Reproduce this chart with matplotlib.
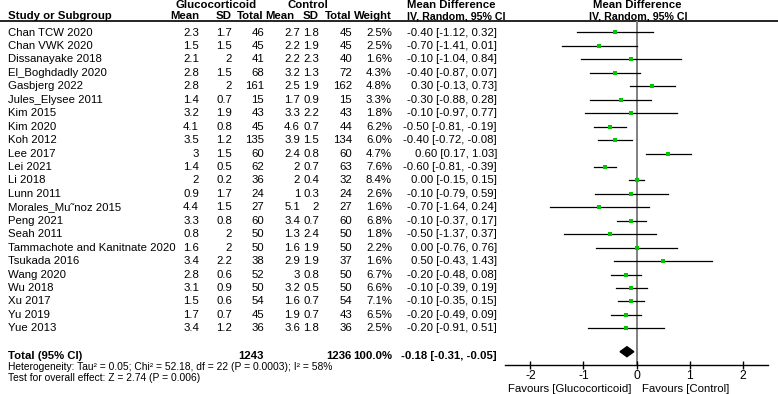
import matplotlib.pyplot as plt
from matplotlib.patches import Polygon

plt.rcParams['font.family'] = ['Liberation Sans', 'DejaVu Sans']

studies = ["Chan TCW 2020", "Chan VWK 2020", "Dissanayake 2018", "El_Boghdadly 2020",
           "Gasbjerg 2022", "Jules_Elysee 2011", "Kim 2015", "Kim 2020", "Koh 2012",
           "Lee 2017", "Lei 2021", "Li 2018", "Lunn 2011", "Morales_Mu\u02dcnoz 2015",
           "Peng 2021", "Seah 2011", "Tammachote and Kanitnate 2020", "Tsukada 2016",
           "Wang 2020", "Wu 2018", "Xu 2017", "Yu 2019", "Yue 2013"]
g_mean = [2.3, 1.5, 2.1, 2.8, 2.8, 1.4, 3.2, 4.1, 3.5, 3, 1.4, 2, 0.9, 4.4, 3.3, 0.8, 1.6, 3.4, 2.8, 3.1, 1.5, 1.7, 3.4]
g_sd = [1.7, 1.5, 2, 1.5, 2, 0.7, 1.9, 0.8, 1.2, 1.5, 0.5, 0.2, 1.7, 1.5, 0.8, 2, 2, 2.2, 0.6, 0.9, 0.6, 0.7, 1.2]
g_n = [46, 45, 41, 68, 161, 15, 43, 45, 135, 60, 62, 36, 24, 27, 60, 50, 50, 38, 52, 50, 54, 45, 36]
c_mean = [2.7, 2.2, 2.2, 3.2, 2.5, 1.7, 3.3, 4.6, 3.9, 2.4, 2, 2, 1, 5.1, 3.4, 1.3, 1.6, 2.9, 3, 3.2, 1.6, 1.9, 3.6]
c_sd = [1.8, 1.9, 2.3, 1.3, 1.9, 0.9, 2.2, 0.7, 1.5, 0.8, 0.7, 0.4, 0.3, 2, 0.7, 2.4, 1.9, 1.9, 0.8, 0.5, 0.7, 0.7, 1.8]
c_n = [45, 45, 40, 72, 162, 15, 43, 44, 134, 60, 63, 32, 24, 27, 60, 50, 50, 37, 50, 50, 54, 43, 36]
weight = [2.5, 2.5, 1.6, 4.3, 4.8, 3.3, 1.8, 6.2, 6.0, 4.7, 7.6, 8.4, 2.6, 1.6, 6.8, 1.8, 2.2, 1.6, 6.7, 6.6, 7.1, 6.5, 2.5]
md = [-0.40, -0.70, -0.10, -0.40, 0.30, -0.30, -0.10, -0.50, -0.40, 0.60, -0.60, 0.00, -0.10, -0.70, -0.10, -0.50, 0.00, 0.50, -0.20, -0.10, -0.10, -0.20, -0.20]
lo = [-1.12, -1.41, -1.04, -0.87, -0.13, -0.88, -0.97, -0.81, -0.72, 0.17, -0.81, -0.15, -0.79, -1.64, -0.37, -1.37, -0.76, -0.43, -0.48, -0.39, -0.35, -0.49, -0.91]
hi = [0.32, 0.01, 0.84, 0.07, 0.73, 0.28, 0.77, -0.19, -0.08, 1.03, -0.39, 0.15, 0.59, 0.24, 0.17, 0.37, 0.76, 1.43, 0.08, 0.19, 0.15, 0.09, 0.51]
total_g, total_c = 1243, 1236
total_md, total_lo, total_hi = -0.18, -0.31, -0.05
xticks = [-2, -1, 0, 1, 2]

W, H = 778, 394
fig = plt.figure(figsize=(W / 100, H / 100), dpi=100)
fs = 8.2

# table text on a pixel-coordinate axes
ax_t = fig.add_axes([0, 0, 1, 1])
ax_t.set_xlim(0, W)
ax_t.set_ylim(H, 0)
ax_t.axis('off')

def row_y(i):
    return 32.5 + i * 13.45

def txt(x, y, s, ha='right', bold=False, size=fs):
    ax_t.text(x, y, s, ha=ha, va='center', fontsize=size,
              fontweight='bold' if bold else 'normal')

# headers
txt(216, 5, "Glucocorticoid", ha='center', bold=True)
txt(307.5, 5, "Control", ha='center', bold=True)
txt(407, 5, "Mean Difference", ha='left', bold=True)
txt(637, 5, "Mean Difference", ha='center', bold=True)
txt(8, 16, "Study or Subgroup", ha='left', bold=True)
for x, s in [(199, "Mean"), (232, "SD"), (264, "Total"), (294, "Mean"),
             (319, "SD"), (352, "Total"), (392, "Weight")]:
    txt(x, 16, s, bold=True)
txt(407, 16, "IV, Random, 95% CI", ha='left', bold=True, size=fs - 0.5)
txt(638, 16, "IV, Random, 95% CI", ha='center', bold=True, size=fs - 0.5)
ax_t.plot([0, W], [21, 21], color='black', lw=1.2)

for i, name in enumerate(studies):
    y = row_y(i)
    txt(8, y, name, ha='left')
    txt(199, y, f"{g_mean[i]:g}")
    txt(232, y, f"{g_sd[i]:g}")
    txt(264, y, f"{g_n[i]}")
    txt(300, y, f"{c_mean[i]:g}")
    txt(319, y, f"{c_sd[i]:g}")
    txt(352, y, f"{c_n[i]}")
    txt(392, y, f"{weight[i]:.1f}%")
    txt(497, y, f"{md[i]:.2f} [{lo[i]:.2f}, {hi[i]:.2f}]")

ty = 356
txt(8, ty, "Total (95% CI)", ha='left', bold=True)
txt(264, ty, f"{total_g}", bold=True)
txt(352, ty, f"{total_c}", bold=True)
txt(392, ty, "100.0%", bold=True)
txt(497, ty, f"{total_md:.2f} [{total_lo:.2f}, {total_hi:.2f}]", bold=True)
txt(8, 367, "Heterogeneity: Tau\u00b2 = 0.05; Chi\u00b2 = 52.18, df = 22 (P = 0.0003); I\u00b2 = 58%", ha='left', size=7.4)
txt(8, 378, "Test for overall effect: Z = 2.74 (P = 0.006)", ha='left', size=7.4)

# forest plot
ax = fig.add_axes([505 / W, (H - 364.5) / H, (768 - 505) / W, (364.5 - 21) / H])
ax.set_xlim(-2.48, 2.48)
ax.set_ylim(364.5, 21)
ax.patch.set_alpha(0)
for sp in ['left', 'right', 'top']:
    ax.spines[sp].set_visible(False)
ax.spines['bottom'].set_linewidth(1.0)
ax.set_yticks([])
ax.set_xticks(xticks)
ax.set_xticklabels([str(t) for t in xticks])
ax.tick_params(axis='x', direction='inout', length=6, width=1.0, labelsize=fs + 0.5, pad=1)
ax.axvline(0, color='#808080', lw=1.4, zorder=1)

for i in range(len(studies)):
    y = row_y(i)
    ax.plot([lo[i], hi[i]], [y, y], color='black', lw=0.9, zorder=2)
    ax.plot(md[i], y, marker='s', color='#00c800', ms=2.4, mew=0, zorder=3)

dy = 5
ax.add_patch(Polygon([[total_lo, 351.7], [total_md, 351.7 - dy], [total_hi, 351.7],
                      [total_md, 351.7 + dy]], closed=True, color='black', zorder=3))

txt(631, 389, "Favours [Glucocorticoid]")
txt(642, 389, "Favours [Control]", ha='left')

fig.savefig("out.png", dpi=100)
